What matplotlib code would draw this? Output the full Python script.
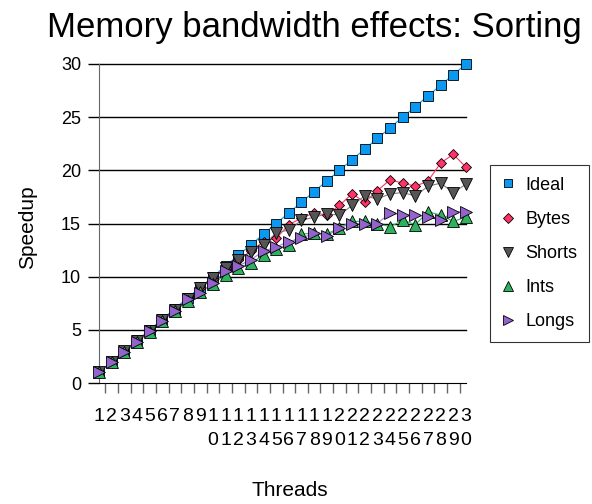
import matplotlib
matplotlib.use("Agg")
import matplotlib.pyplot as plt
from matplotlib.lines import Line2D
import numpy as np

plt.rcParams["font.family"] = ["Liberation Sans", "DejaVu Sans"]

threads = list(range(1, 31))
ideal = list(range(1, 31))
bytes_speedup = [1.0, 2.0, 3.0, 3.95, 4.9, 5.9, 6.9, 7.9, 8.9, 9.8,
                 10.8, 11.6, 12.4, 13.3, 13.6, 14.9, 15.5, 16.0, 15.8, 16.7,
                 17.8, 17.0, 18.1, 19.1, 18.8, 18.5, 19.0, 20.7, 21.5, 20.3]
shorts_speedup = [1.0, 2.0, 3.0, 3.95, 4.9, 5.9, 6.9, 7.9, 8.9, 9.9,
                  10.8, 11.6, 12.3, 13.0, 14.1, 14.4, 15.3, 15.6, 15.9, 15.8,
                  16.7, 17.6, 17.3, 17.8, 17.9, 17.6, 18.5, 18.8, 17.9, 18.7]
ints_speedup = [1.0, 1.95, 2.9, 3.85, 4.8, 5.8, 6.75, 7.7, 8.6, 9.3,
                10.2, 10.8, 11.3, 12.0, 12.6, 13.0, 14.0, 14.1, 14.0, 14.6,
                15.2, 15.2, 15.0, 14.7, 15.3, 14.9, 16.1, 15.8, 15.2, 15.6]
longs_speedup = [1.0, 1.95, 2.9, 3.85, 4.85, 5.8, 6.8, 7.9, 8.5, 9.4,
                 10.5, 11.0, 11.6, 12.4, 12.8, 13.3, 13.6, 14.1, 13.8, 14.6,
                 15.0, 15.0, 15.0, 16.0, 15.8, 15.8, 15.6, 15.3, 16.1, 16.1]

# name, values, marker, marker colour, line colour, plot size, legend size
series = [
    ("Ideal", ideal, "s", "#0A98F2", "#0A98F2", 7.5, 6),
    ("Bytes", bytes_speedup, "D", "#FF3366", "#FF3366", 5.6, 4.8),
    ("Shorts", shorts_speedup, "v", "#555555", "#808080", 8.4, 7),
    ("Ints", ints_speedup, "^", "#2DB35E", "#2DB35E", 8.4, 7),
    ("Longs", longs_speedup, ">", "#9463CC", "#A57FD6", 8.4, 7),
]

fig = plt.figure(figsize=(5.92, 5.04), dpi=100)
ax = fig.add_axes([99 / 592, 1 - 383 / 504, 367 / 592, 319 / 504])

for y in range(5, 31, 5):
    ax.axhline(y, color="black", lw=1, zorder=1, clip_on=False)

handles = []
for name, vals, marker, mcolor, lcolor, ms, lms in series:
    ax.plot(threads, vals, color=lcolor, lw=0.8, zorder=2, clip_on=False)
    ax.plot(threads, vals, ls="none", marker=marker, ms=ms, mfc=mcolor,
            mec="black", mew=0.6, zorder=3, clip_on=False)
    handles.append(Line2D([], [], ls="none", marker=marker, ms=lms,
                          mfc=mcolor, mec="black", mew=0.6, label=name))

ax.set_xlim(1, 30)
ax.set_ylim(0, 30)

for side in ["top", "right"]:
    ax.spines[side].set_visible(False)
ax.spines["left"].set_color("#666666")
ax.spines["bottom"].set_color("black")

ax.set_yticks(range(0, 31, 5))
ax.tick_params(axis="y", length=11 * 0.72, width=1, color="black",
               labelsize=13, pad=5)

xt_labels = [str(t) if t < 10 else f"{t // 10}\n{t % 10}" for t in threads]
ax.set_xticks(threads)
ax.set_xticklabels(xt_labels, linespacing=1.55)
ax.tick_params(axis="x", which="major", length=0, labelsize=14, pad=18)
ax.set_xticks([1] + list(np.arange(1.5, 30, 1)), minor=True)
ax.tick_params(axis="x", which="minor", length=10 * 0.72, width=1, color="#666666")

ax.set_xlabel("Threads", fontsize=15, va="top")
ax.xaxis.set_label_coords((290 - 99) / 367, (383 - 481) / 319)
ax.set_ylabel("Speedup", fontsize=15)
ax.yaxis.set_label_coords((37 - 99) / 367, 0.49)

fig.text(314 / 592, 1 - 28 / 504, "Memory bandwidth effects: Sorting",
         fontsize=25, ha="center", va="center")

leg = fig.legend(handles=handles, loc="upper left",
                 bbox_to_anchor=(490 / 592, 1 - 165 / 504), fontsize=13,
                 frameon=True, fancybox=False, edgecolor="black",
                 handlelength=0.7, handletextpad=0.6, labelspacing=0.95,
                 borderpad=0.65, borderaxespad=0)
leg.get_frame().set_linewidth(0.8)

fig.savefig("out.png", dpi=100)
